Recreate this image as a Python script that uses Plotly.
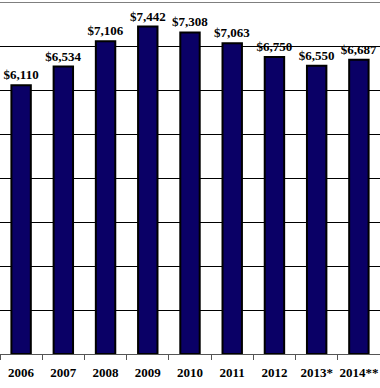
import plotly.graph_objects as go

years = ["2006", "2007", "2008", "2009", "2010", "2011", "2012", "2013*", "2014**"]
values = [6110, 6534, 7106, 7442, 7308, 7063, 6750, 6550, 6687]

fig = go.Figure(go.Bar(
    x=years,
    y=values,
    width=0.46,
    marker=dict(color="#0a0066", line=dict(color="black", width=2)),
    texttemplate="$%{y:,}",
    textposition="outside",
    constraintext="none",
    textfont=dict(family="Liberation Serif", size=13, color="black", weight="bold"),
    cliponaxis=False,
))

fig.update_layout(
    width=380, height=388,
    margin=dict(l=0, r=0, t=2, b=34, autoexpand=False),
    plot_bgcolor="white", paper_bgcolor="white",
    showlegend=False,
    xaxis=dict(
        range=[-0.5, 8.5], automargin=False,
        showline=True, linecolor="#555555", linewidth=1,
        ticks="outside", tickson="boundaries", ticklen=5, tickcolor="#555555",
        tickangle=0, ticklabelstandoff=6,
        tickfont=dict(family="Liberation Serif", size=13, color="black", weight="bold"),
        showgrid=False,
    ),
    yaxis=dict(
        range=[0, 8000], dtick=1000, automargin=False,
        showgrid=True, gridcolor="black", gridwidth=1,
        showticklabels=False, zeroline=False,
    ),
    shapes=[dict(type="line", xref="paper", yref="y", x0=0, x1=1, y0=8000, y1=8000,
                 line=dict(color="#7f7f7f", width=2))],
)

fig.write_html("out.html", config={"displayModeBar": False},
               post_script="document.body.style.margin='0';")
